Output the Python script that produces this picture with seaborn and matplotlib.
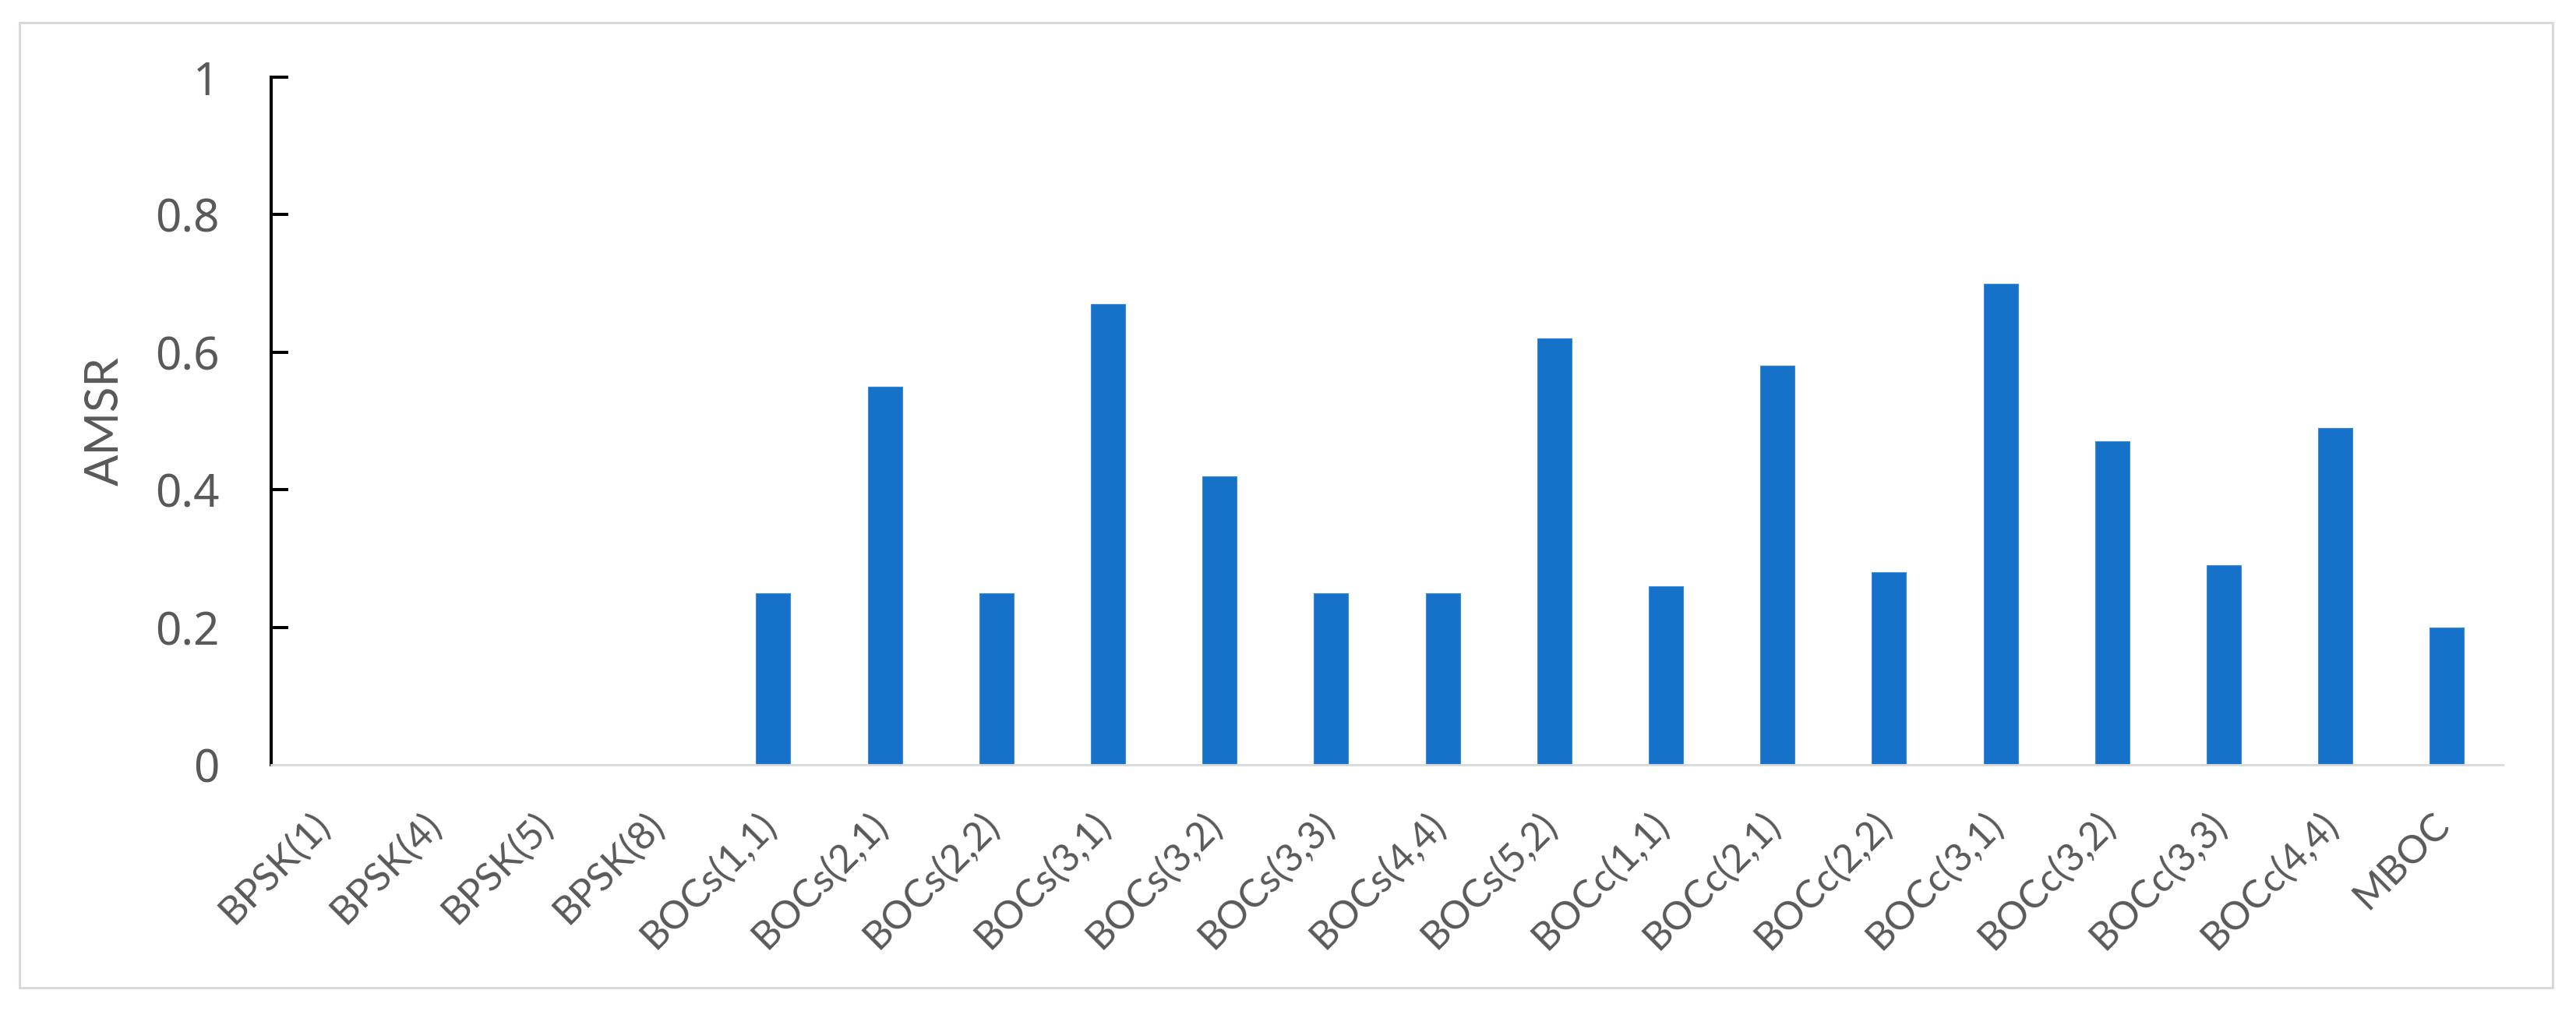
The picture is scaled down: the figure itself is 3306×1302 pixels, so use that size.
import matplotlib
matplotlib.use("Agg")
import matplotlib.pyplot as plt
import matplotlib.transforms as mtransforms
from matplotlib.patches import Rectangle
import seaborn as sns
import pandas as pd

categories = ["BPSK(1)", "BPSK(4)", "BPSK(5)", "BPSK(8)",
              "BOCs(1,1)", "BOCs(2,1)", "BOCs(2,2)", "BOCs(3,1)", "BOCs(3,2)",
              "BOCs(3,3)", "BOCs(4,4)", "BOCs(5,2)",
              "BOCc(1,1)", "BOCc(2,1)", "BOCc(2,2)", "BOCc(3,1)", "BOCc(3,2)",
              "BOCc(3,3)", "BOCc(4,4)", "MBOC"]
amsr = [0, 0, 0, 0,
        0.25, 0.55, 0.25, 0.67, 0.42, 0.25, 0.25, 0.62,
        0.26, 0.58, 0.28, 0.70, 0.47, 0.29, 0.49, 0.20]
y_ticks = [0, 0.2, 0.4, 0.6, 0.8, 1.0]
y_tick_labels = ["0", "0.2", "0.4", "0.6", "0.8", "1"]

sns.set_style("white")
plt.rcParams["font.family"] = ["Lato", "DejaVu Sans"]

W, H = 3306, 1302
fig = plt.figure(figsize=(W / 100, H / 100), dpi=100)
ax = fig.add_axes([348 / W, 1 - 981 / H, (3212 - 348) / W, (981 - 99) / H])

df = pd.DataFrame({"cat": categories, "val": amsr})
sns.barplot(data=df, x="cat", y="val", color="#1572C8", saturation=1,
            width=0.307, ax=ax, edgecolor="#3F8AD6", linewidth=0.8)

ax.set_xlim(-0.5, len(categories) - 0.5)
ax.set_ylim(0, 1)
ax.set_yticks(y_ticks)
ax.set_yticklabels(y_tick_labels, fontsize=42, color="#595959",
                   family=["Noto Sans", "DejaVu Sans"])
ax.tick_params(axis="y", left=True, direction="in", length=16, width=2.9,
               color="black", pad=48)
ax.yaxis.get_major_ticks()[0].tick1line.set_visible(False)

ax.tick_params(axis="x", bottom=False, length=0, pad=38)
ax.set_xticks(range(len(categories)))
ax.set_xticklabels(categories, rotation=45, ha="right", va="top",
                   fontsize=36, color="#595959")
offset = mtransforms.ScaledTranslation(12 / 100, 0, fig.dpi_scale_trans)
for lab in ax.get_xticklabels():
    lab.set_transform(lab.get_transform() + offset)

ax.set_xlabel("")
ax.set_ylabel("AMSR", fontsize=43, color="#595959")
ax.yaxis.set_label_coords((162 - 348) / (3212 - 348), 0.5)

for s in ["top", "right"]:
    ax.spines[s].set_visible(False)
ax.spines["left"].set_color("black")
ax.spines["left"].set_linewidth(2.9)
ax.spines["bottom"].set_color("#D9D9D9")
ax.spines["bottom"].set_linewidth(2)
ax.grid(False)

border = Rectangle((25 / W, 1 - 1267 / H), (3276 - 25) / W, (1267 - 29) / H,
                   transform=fig.transFigure, fill=False, edgecolor="#D9D9D9",
                   linewidth=2.2)
fig.patches.append(border)

fig.savefig("out.png", dpi=100, facecolor="white")
